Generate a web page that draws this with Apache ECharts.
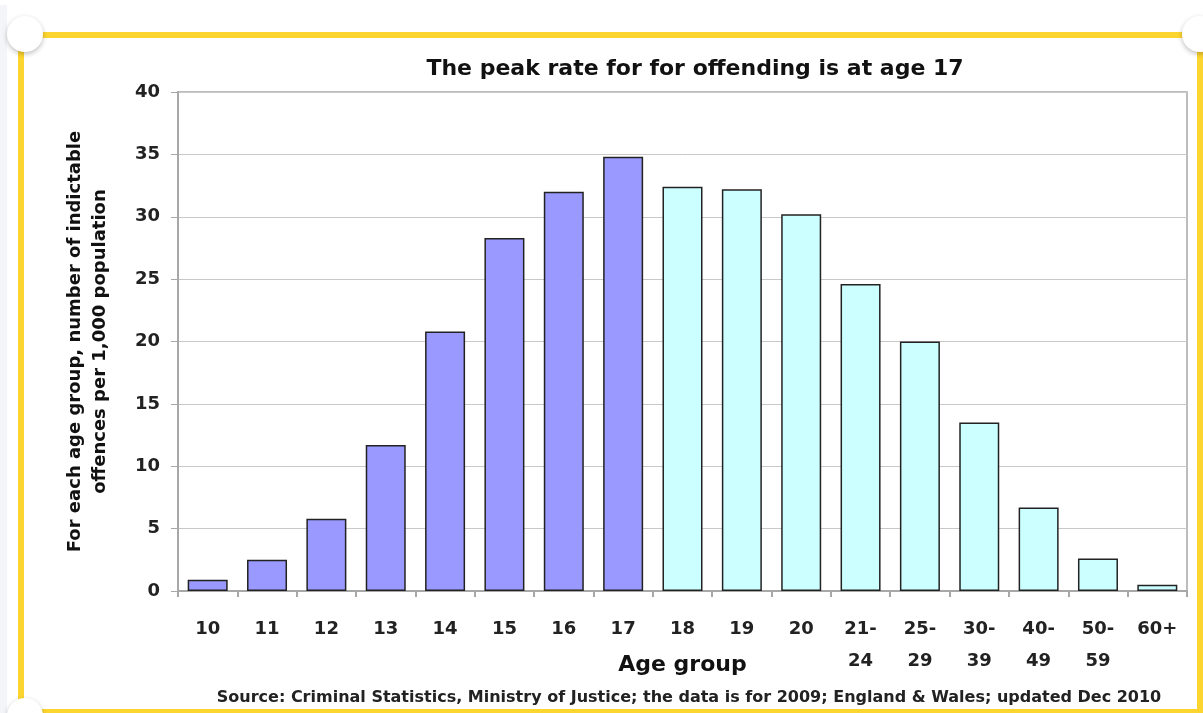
<!DOCTYPE html>
<html><head><meta charset="utf-8">
<script src="https://cdn.jsdelivr.net/npm/echarts@6/dist/echarts.min.js"></script>
<style>
html,body{margin:0;padding:0;background:#fff;}
#wrap{position:relative;width:1203px;height:713px;overflow:hidden;}
#strip{position:absolute;left:0;top:5px;width:7px;height:708px;background:#f4f5f8;}
#frame{position:absolute;left:18px;top:32px;width:1173px;height:671px;border:6px solid #fcd530;border-bottom-width:4px;}
.dot{position:absolute;width:36px;height:36px;border-radius:50%;background:#fff;box-shadow:0 2px 5px rgba(0,0,0,0.25);}
#chart{position:absolute;left:0;top:0;width:1203px;height:713px;}
</style></head>
<body><div id="wrap">
<div id="strip"></div>
<div id="frame"></div>
<div class="dot" style="left:7px;top:16px"></div>
<div class="dot" style="left:1182px;top:16px"></div>
<div class="dot" style="left:7px;top:698px"></div>
<div id="chart"></div>
</div>
<script>
const categories = ['10','11','12','13','14','15','16','17','18','19','20','21-\n24','25-\n29','30-\n39','40-\n49','50-\n59','60+'];
const rates = [0.9,2.5,5.8,11.7,20.8,28.3,32.0,34.8,32.4,32.2,30.2,24.6,20.0,13.5,6.7,2.6,0.5];
const youthCount = 8; // ages 10-17 in purple
const titleText = 'The peak rate for for offending is at age 17';
const sourceText = 'Source: Criminal Statistics, Ministry of Justice; the data is for 2009; England & Wales; updated Dec 2010';
const yName = 'For each age group, number of indictable\noffences per 1,000 population';
const xName = 'Age group';

const chart = echarts.init(document.getElementById('chart'));
const font = 'DejaVu Sans, sans-serif';
chart.setOption({
  backgroundColor: 'transparent',
  animation: false,
  title: [
    {text: titleText, left: 690, top: 53, textAlign: 'center',
     textStyle: {fontFamily: font, fontSize: 22, fontWeight: 'bold', color: '#111'}},
    {text: sourceText, left: 684, top: 685, textAlign: 'center',
     textStyle: {fontFamily: font, fontSize: 16, fontWeight: 'bold', color: '#222'}}
  ],
  grid: {left: 178, right: 16, top: 92, bottom: 122, show: true, borderColor: '#a8a8a8', borderWidth: 1.5},
  xAxis: {
    type: 'category', data: categories,
    name: xName, nameLocation: 'middle', nameGap: 63, nameMoveOverlap: false,
    nameTextStyle: {fontFamily: font, fontSize: 22, fontWeight: 'bold', color: '#111'},
    axisLine: {lineStyle: {color: '#a8a8a8', width: 2}},
    axisTick: {show: true, length: 6, lineStyle: {color: '#a8a8a8', width: 2}},
    axisLabel: {interval: 0, margin: 22, lineHeight: 32, fontFamily: font, fontSize: 18, fontWeight: 'bold', color: '#222'}
  },
  yAxis: {
    type: 'value', min: 0, max: 40, interval: 5,
    name: yName, nameLocation: 'middle', nameGap: 65, nameRotate: 90,
    nameTextStyle: {fontFamily: font, fontSize: 18, fontWeight: 'bold', color: '#111', lineHeight: 25},
    axisLine: {show: true, lineStyle: {color: '#a8a8a8', width: 2}},
    axisTick: {show: true, length: 7, lineStyle: {color: '#a8a8a8', width: 1}},
    splitLine: {lineStyle: {color: '#c8c8c8', width: 1}},
    axisLabel: {margin: 18, fontFamily: font, fontSize: 18, fontWeight: 'bold', color: '#222'}
  },
  series: [{
    type: 'bar', barWidth: 40,
    data: rates.map((v, i) => ({value: v, itemStyle: {color: i < youthCount ? '#9999ff' : '#ccffff'}})),
    itemStyle: {borderColor: '#222', borderWidth: 1.5}
  }]
});
</script>
</body></html>
